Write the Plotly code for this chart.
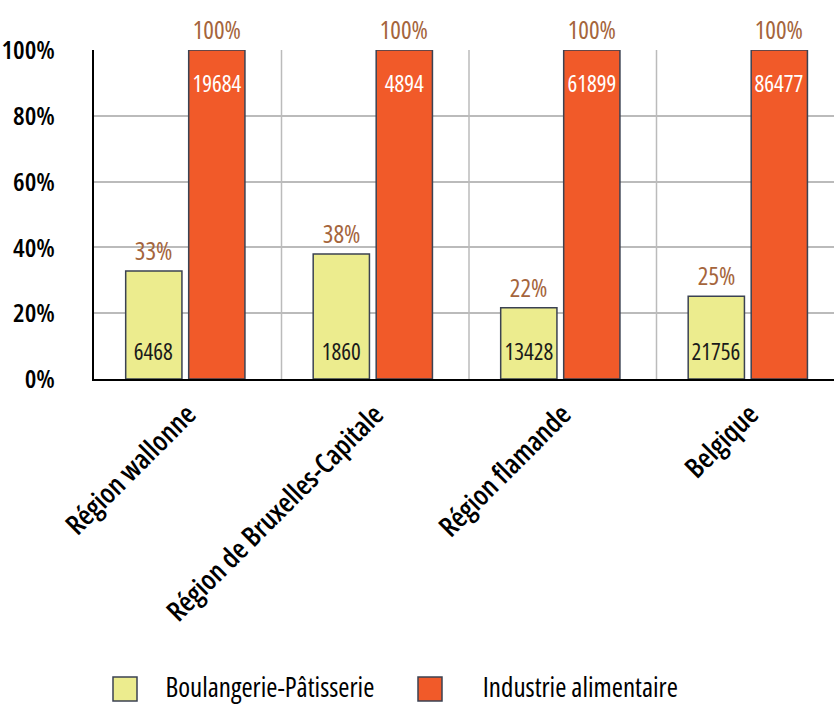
import plotly.graph_objects as go

regions = ["Région wallonne", "Région de Bruxelles-Capitale", "Région flamande", "Belgique"]
boulangerie = [6468, 1860, 13428, 21756]
industrie = [19684, 4894, 61899, 86477]
y_ticks = [0, 20, 40, 60, 80, 100]
series_names = ["Boulangerie-Pâtisserie", "Industrie alimentaire"]

pct_boul = [100 * b / i for b, i in zip(boulangerie, industrie)]
pct_ind = [100 * i / i for i in industrie]

FONT = "Open Sans, Roboto, sans-serif"
YELLOW = "#ECEC8E"
ORANGE = "#F15A29"
EDGE = "#3B4252"
BROWN = "#A5653C"
GRID = "#BBBBBB"

# figure geometry (pixels)
W, H = 834, 706
ML, MR, MT, MB = 94, 0, 50, 327
PW, PH = W - ML - MR, H - MT - MB

x = list(range(len(regions)))
BAR_W = 0.30
OFF_B, OFF_I = -0.331, 0.005

fig = go.Figure()
fig.add_trace(go.Bar(
    x=x, y=pct_boul, name=series_names[0], width=BAR_W, offset=OFF_B,
    marker=dict(color=YELLOW, line=dict(color=EDGE, width=1.5)),
    showlegend=False, hoverinfo="skip",
))
fig.add_trace(go.Bar(
    x=x, y=pct_ind, name=series_names[1], width=BAR_W, offset=OFF_I,
    marker=dict(color=ORANGE, line=dict(color=EDGE, width=1.5)),
    showlegend=False, hoverinfo="skip",
))

cx_b = [i + OFF_B + BAR_W / 2 for i in x]
cx_i = [i + OFF_I + BAR_W / 2 for i in x]

annotations = []
# counts inside the bars
for xc, v in zip(cx_b, boulangerie):
    annotations.append(dict(x=xc, y=0, text=str(v), showarrow=False, yanchor="middle",
                            yshift=28, font=dict(family=FONT, size=23, weight=530, color="#1A1A1A")))
for xc, v, p in zip(cx_i, industrie, pct_ind):
    annotations.append(dict(x=xc, y=p, text=str(v), showarrow=False, yanchor="middle",
                            yshift=-33, font=dict(family=FONT, size=23, weight=500, color="white")))
# percentages above the bars
for xc, p in list(zip(cx_b, pct_boul)) + list(zip(cx_i, pct_ind)):
    annotations.append(dict(x=xc, y=p, text=f"{round(p)}%", showarrow=False, yanchor="middle",
                            yshift=21, font=dict(family=FONT, size=25, weight=500, color=BROWN)))

# vertical separators between region groups
shapes = []
for k in range(len(regions) - 1):
    shapes.append(dict(type="line", xref="x", yref="paper", x0=k + 0.5, x1=k + 0.5,
                       y0=0, y1=1, line=dict(color=GRID, width=1.5), layer="below"))

# legend drawn below the axis
def px_x(px):
    return (px - ML) / PW

def px_y(py):
    return (H - MB - py) / PH

legend_items = [(113, 270, YELLOW, series_names[0]), (418, 580, ORANGE, series_names[1])]
for sx, tx, col, label in legend_items:
    shapes.append(dict(type="rect", xref="paper", yref="paper",
                       x0=px_x(sx), x1=px_x(sx + 24), y0=px_y(701), y1=px_y(677),
                       fillcolor=col, line=dict(color=EDGE, width=1.5)))
    annotations.append(dict(xref="paper", yref="paper", x=px_x(tx), y=px_y(686),
                            xanchor="center", yanchor="middle", text=label, showarrow=False,
                            font=dict(family=FONT, size=27, weight=530, color="black")))

fig.update_layout(
    width=W, height=H,
    margin=dict(l=ML, r=MR, t=MT, b=MB, autoexpand=False),
    plot_bgcolor="white", paper_bgcolor="white",
    barmode="overlay",
    font=dict(family=FONT, color="black"),
    annotations=annotations, shapes=shapes,
    showlegend=False,
)
fig.update_xaxes(
    tickmode="array", tickvals=x, ticktext=regions, tickangle=-45,
    range=[-0.5, -0.5 + PW / 187.5], showgrid=False, automargin=False,
    showline=True, linecolor="black", linewidth=2,
    ticks="", ticklabelstandoff=6,
    tickfont=dict(family=FONT, size=28, weight=540, color="black"),
)
fig.update_yaxes(
    range=[0, 100], tickvals=y_ticks, ticktext=[f"{v}%" for v in y_ticks],
    showgrid=True, gridcolor=GRID, gridwidth=1.5, automargin=False,
    showline=True, linecolor="black", linewidth=2, zeroline=False,
    ticks="", ticklabelstandoff=32,
    tickfont=dict(family=FONT, size=26, weight=600, color="black"),
)

# narrow the glyphs (Open Sans carries a width axis)
narrow_js = (
    "var gd = document.getElementById('{plot_id}');"
    "gd.querySelectorAll('text').forEach(function(t){t.style.fontStretch='75%';});"
)
fig.write_html("out.html", post_script=narrow_js)
